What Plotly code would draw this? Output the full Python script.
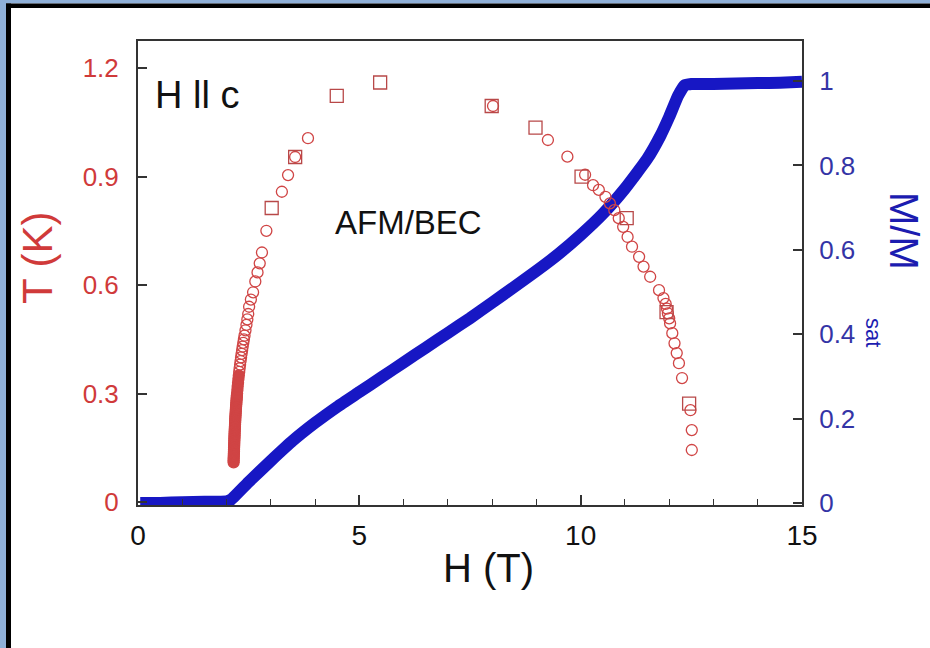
import plotly.graph_objects as go

# ---------------- data ----------------
# Magnetization M/Msat vs H (blue curve)
mag_H = [0.05, 0.5, 1.0, 1.5, 2.0, 2.1, 2.5, 3.0, 3.5, 4.0, 4.5, 5.0, 5.5, 6.0, 6.5,
         7.0, 7.5, 8.0, 8.5, 9.0, 9.5, 10.0, 10.5, 11.0, 11.5, 11.8, 12.0, 12.2,
         12.35, 12.5, 13.0, 13.5, 14.0, 14.5, 15.0]
mag_M = [0.0, 0.0, 0.002, 0.003, 0.004, 0.008, 0.05, 0.10, 0.148, 0.19, 0.228, 0.263,
         0.298, 0.333, 0.368, 0.403, 0.438, 0.475, 0.512, 0.55, 0.59, 0.635, 0.685, 0.745,
         0.815, 0.87, 0.915, 0.965, 0.99, 0.993, 0.993, 0.994, 0.995, 0.996, 0.998]

# Phase boundary T_c(H), circles
circ_H = [2.160, 2.160, 2.162, 2.163, 2.165, 2.166, 2.168, 2.169, 2.170, 2.172, 2.173,
          2.175, 2.176, 2.178, 2.179, 2.181, 2.182, 2.184, 2.186, 2.188, 2.190, 2.192,
          2.194, 2.196, 2.198, 2.200, 2.203, 2.205, 2.208, 2.210, 2.213, 2.216, 2.219,
          2.222, 2.225, 2.228, 2.231, 2.234, 2.238, 2.245, 2.252, 2.260, 2.268, 2.277,
          2.286, 2.296, 2.306, 2.317, 2.328, 2.340, 2.352, 2.365, 2.378, 2.392, 2.406,
          2.428, 2.450, 2.470, 2.490, 2.51, 2.55, 2.60, 2.65, 2.70, 2.75, 2.80, 2.90,
          3.25, 3.39, 3.55, 3.84,
          8.02, 9.26, 9.70, 10.10, 10.28, 10.41, 10.56, 10.66, 10.76, 10.86, 10.96,
          11.06, 11.16, 11.32, 11.42, 11.57, 11.77, 11.87, 11.92, 11.95, 11.97, 12.00,
          12.02, 12.07, 12.12, 12.17, 12.22, 12.29, 12.48, 12.51, 12.51]
circ_T = [0.110, 0.115, 0.120, 0.125, 0.130, 0.135, 0.140, 0.145, 0.150, 0.155, 0.160,
          0.165, 0.170, 0.175, 0.180, 0.185, 0.190, 0.195, 0.200, 0.205, 0.210, 0.215,
          0.220, 0.225, 0.230, 0.235, 0.240, 0.245, 0.250, 0.255, 0.260, 0.265, 0.270,
          0.275, 0.280, 0.285, 0.290, 0.295, 0.300, 0.310, 0.320, 0.330, 0.340, 0.350,
          0.360, 0.370, 0.380, 0.390, 0.400, 0.410, 0.420, 0.430, 0.440, 0.450, 0.460,
          0.475, 0.490, 0.505, 0.520, 0.54, 0.56, 0.58, 0.61, 0.635, 0.66, 0.69, 0.75,
          0.858, 0.904, 0.954, 1.006,
          1.095, 1.001, 0.955, 0.905, 0.876, 0.863, 0.844, 0.826, 0.807, 0.785, 0.761,
          0.733, 0.706, 0.678, 0.651, 0.623, 0.586, 0.564, 0.548, 0.535, 0.522, 0.508,
          0.494, 0.467, 0.439, 0.412, 0.384, 0.343, 0.254, 0.199, 0.144]

# Phase boundary T_c(H), squares
sq_H = [3.02, 3.55, 4.49, 5.47, 7.99, 8.98, 10.02, 11.04, 11.94, 12.45]
sq_T = [0.813, 0.954, 1.123, 1.160, 1.095, 1.035, 0.900, 0.785, 0.525, 0.272]

x_ticks = [0, 5, 10, 15]
t_ticks = [0, 0.3, 0.6, 0.9, 1.2]
t_labels = ["0", "0.3", "0.6", "0.9", "1.2"]
m_ticks = [0, 0.2, 0.4, 0.6, 0.8, 1.0]
m_labels = ["0", "0.2", "0.4", "0.6", "0.8", "1"]

# ---------------- figure ----------------
W, H = 930, 648
L, R, T, B = 138, 802, 41, 505


def px(x):
    return (x - L) / (R - L)


def py(y):
    return (B - y) / (B - T)


RED = "#d04545"
BLUE = "#1717c4"
FONT = "Liberation Sans, Arial, Helvetica, sans-serif"

# densely-packed low-temperature points render as a solid band
circ_sym = ["circle" if (h < 3 and t < 0.36) else "circle-open"
            for h, t in zip(circ_H, circ_T)]

fig = go.Figure()
fig.add_trace(go.Scatter(x=mag_H, y=mag_M, mode="lines", yaxis="y",
                         line=dict(color=BLUE, width=12, shape="spline", smoothing=0.4),
                         showlegend=False))
fig.add_trace(go.Scatter(x=circ_H, y=circ_T, mode="markers", yaxis="y2",
                         marker=dict(symbol=circ_sym, size=11,
                                     line=dict(color=RED, width=1.3), color=RED),
                         showlegend=False))
fig.add_trace(go.Scatter(x=sq_H, y=sq_T, mode="markers", yaxis="y2",
                         marker=dict(symbol="square-open", size=13,
                                     line=dict(color="#b84848", width=1.3), color="#b84848"),
                         showlegend=False))

fig.update_layout(
    width=W, height=H,
    margin=dict(l=L, r=W - R, t=T, b=H - B, pad=0),
    paper_bgcolor="white", plot_bgcolor="white",
    font=dict(family=FONT, color="#111111"),
    xaxis=dict(range=[0, 15], tickvals=x_ticks, ticks="inside", ticklen=10, tickwidth=1.5,
               tickcolor="#333", showline=True, linecolor="#333", linewidth=2,
               mirror=True, showgrid=False, zeroline=False,
               minor=dict(ticks="inside", ticklen=6, dtick=1, tickcolor="#333", tickwidth=1.2),
               tickfont=dict(size=28, color="#111"), ticklabelstandoff=4),
    yaxis=dict(range=[-0.0047, 1.0948], side="right", tickvals=m_ticks, ticktext=m_labels,
               ticks="inside", ticklen=9, tickwidth=1.5, tickcolor="#333",
               showline=True, linecolor="#333", linewidth=2, showgrid=False, zeroline=False,
               tickfont=dict(size=26, color="#3434a6"), ticklabelstandoff=10),
    yaxis2=dict(range=[-0.008, 1.2747], overlaying="y", side="left", tickvals=t_ticks,
                ticktext=t_labels, ticks="inside", ticklen=9, tickwidth=1.5, tickcolor="#333",
                showline=True, linecolor="#333", linewidth=2, showgrid=False, zeroline=False,
                tickfont=dict(size=26, color="#d03a3a"), ticklabelstandoff=12),
)

annotations = [
    dict(text="H ll c", x=px(153), y=py(95), xanchor="left", yanchor="middle",
         font=dict(size=38, color="#111")),
    dict(text="AFM/BEC", x=px(408), y=py(222), xanchor="center", yanchor="middle",
         font=dict(size=33, color="#111")),
    dict(text="T (K)", x=px(37), y=py(258), xanchor="center", yanchor="middle",
         textangle=-90, font=dict(size=42, color="#d03a3a")),
    dict(text="H (T)", x=px(488), y=py(568), xanchor="center", yanchor="middle",
         font=dict(size=40, color="#111")),
    dict(text="M/M", x=px(904), y=py(231), xanchor="center", yanchor="middle",
         textangle=90, font=dict(size=40, color="#1c1cb0")),
    dict(text="sat", x=px(874), y=py(332), xanchor="center", yanchor="middle",
         textangle=90, font=dict(size=22, color="#1c1cb0")),
]
for a in annotations:
    a.update(xref="paper", yref="paper", showarrow=False)
fig.update_layout(annotations=annotations)

# decorative frame (top and left edges)
shapes = [
    dict(type="rect", x0=px(0), x1=px(W), y0=py(0), y1=py(3.5), fillcolor="#8fb0d8",
         line=dict(width=0)),
    dict(type="rect", x0=px(0), x1=px(W), y0=py(3.5), y1=py(8), fillcolor="black",
         line=dict(width=0)),
    dict(type="rect", x0=px(0), x1=px(6), y0=py(0), y1=py(H), fillcolor="#8fb0d8",
         line=dict(width=0)),
    dict(type="rect", x0=px(6), x1=px(11), y0=py(3.5), y1=py(H), fillcolor="black",
         line=dict(width=0)),
]
for s in shapes:
    s.update(xref="paper", yref="paper", layer="above")
fig.update_layout(shapes=shapes)

fig.write_html("out.html")
